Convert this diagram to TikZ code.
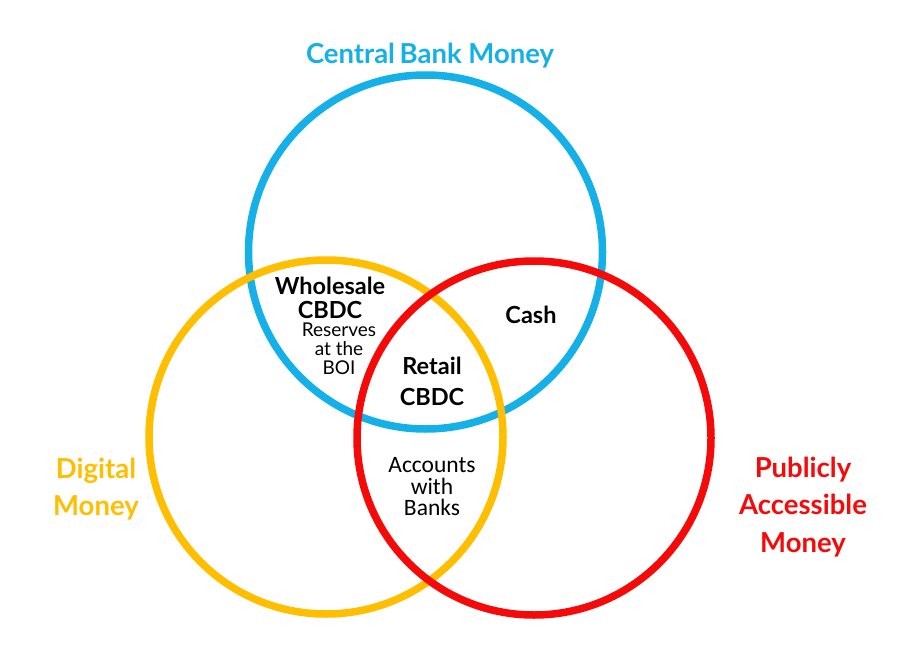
\documentclass[tikz,border=0pt]{standalone}
\usepackage{fontspec}
\setmainfont{Lato}
\newfontfamily\calib{Carlito}
\definecolor{cbblue}{HTML}{16B0E8}
\definecolor{cbyellow}{HTML}{FFBE00}
\definecolor{cbred}{HTML}{F50A0A}
\tikzset{
  ring/.style={draw=#1, line width=7.5pt},
  title/.style={font=\bfseries\fontsize{27.5}{37.5}\selectfont, align=center, inner sep=0pt},
  inlabel/.style={font=\bfseries\fontsize{23.5}{24}\selectfont, align=center, inner sep=0pt, text=black},
  small/.style={font=\fontsize{19}{19}\selectfont, align=center, inner sep=0pt, text=black},
  acc/.style={font=\calib\fontsize{23.5}{21.5}\selectfont, align=center, inner sep=0pt, text=black}
}
\begin{document}
\begin{tikzpicture}[x=1pt,y=-1pt]
\useasboundingbox (0,0) rectangle (904,655);
\draw[ring=cbblue] (425.5,252) circle[radius=177];
\draw[ring=cbyellow] (326,437) circle[radius=177];
\draw[ring=cbred] (534,438) circle[radius=177];
\node[title, text=cbblue] (cbm) at (430,56) {Central\,Bank Money};
\node[title, text=cbyellow] (dm) at (96,489) {Digital\\Money};
\node[title, text=cbred] (pam) at (803,507) {Publicly\\Accessible\\Money};
\node[inlabel] (wc) at (330,298) {Wholesale\\CBDC};
\node[small] (res) at (339,349) {Reserves\\at the\\BOI};
\node[inlabel] (cash) at (531,315) {Cash};
\node[inlabel] (rc) at (432,381) {Retail\\[7pt]CBDC};
\node[acc] (awb) at (432,487) {Accounts\\with\\Banks};
\end{tikzpicture}
\end{document}
